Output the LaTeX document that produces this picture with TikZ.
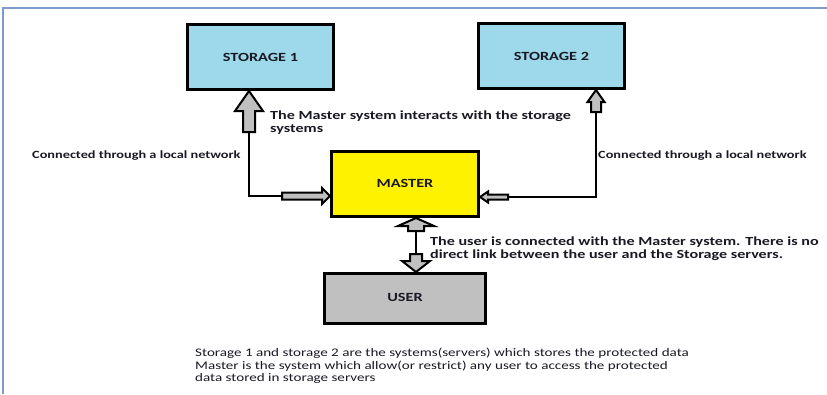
\documentclass[tikz,border=0pt]{standalone}
\usepackage{fontspec}
\setmainfont{Carlito}
\usepackage{graphicx}
\usetikzlibrary{calc}
\definecolor{stor}{RGB}{157,217,234}
\definecolor{mast}{RGB}{255,242,0}
\definecolor{usr}{RGB}{192,192,192}
\definecolor{framec}{RGB}{125,155,205}
\definecolor{arrgray}{RGB}{192,192,192}
\definecolor{txt}{RGB}{25,25,35}
\newcommand\hw[1]{\scalebox{1.3}[1]{#1}}
\newcommand\blockarrow[6]{\draw[barrow,shift={(#1)},rotate=#2] (0,0) -- (-#6,#5) -- (-#6,#4) -- (-#3,#4) -- (-#3,-#4) -- (-#6,-#4) -- (-#6,-#5) -- cycle;}
\begin{document}
\begin{tikzpicture}[x=1pt,y=-1pt,
  box/.style={draw=black,line width=3pt,inner sep=0pt,text=txt,font=\bfseries\fontsize{12.5}{13}\selectfont},
  barrow/.style={draw=black,fill=arrgray,line width=2pt,line join=miter},
  link/.style={draw=black,line width=2.5pt},
  lbl/.style={font=\bfseries\fontsize{11}{13}\selectfont,text=txt,inner sep=0pt,align=left},
  lblbig/.style={font=\bfseries\fontsize{12.4}{13}\selectfont,text=txt,inner sep=0pt,align=left},
  bot/.style={font=\fontsize{11.6}{13}\selectfont,text=txt,inner sep=0pt,align=left},
  bottwo/.style={font=\fontsize{11.6}{12}\selectfont,text=txt,inner sep=0pt,align=left}]
\useasboundingbox (0,0) rectangle (827,394);
\draw[framec,line width=2pt] (3,394) -- (3,8) -- (827,8);

\node[box,fill=stor,minimum width=146pt,minimum height=65pt] (s1) at (260.5,57) {\hw{STORAGE 1}};
\node[box,fill=stor,minimum width=146pt,minimum height=65pt] (s2) at (551.5,56) {\hw{STORAGE 2}};
\node[box,fill=mast,minimum width=147pt,minimum height=65pt] (master) at (405,184) {\raisebox{2pt}{\hw{MASTER}}};
\node[box,fill=usr,minimum width=161pt,minimum height=50pt] (user) at (405,298.5) {\raisebox{3pt}{\hw{USER}}};

% left connector
\coordinate (lx) at (249,196);
\coordinate (tipA) at (s1.south -| lx);
\coordinate (tipB) at (master.west |- lx);
\blockarrow{tipA}{90}{41}{6}{14}{20}
\draw[link] ($(tipA)+(0,41)$) -- (lx) -- ($(tipB)+(-48,0)$);
\blockarrow{tipB}{0}{48}{3.5}{8}{8}

% right connector
\coordinate (rx) at (596,197);
\coordinate (tipC) at (s2.south -| rx);
\coordinate (tipD) at (master.east |- rx);
\blockarrow{tipC}{90}{22}{5}{8.5}{12}
\draw[link] ($(tipC)+(0,22)$) -- (rx) -- ($(tipD)+(28,0)$);
\blockarrow{tipD}{180}{28}{2.5}{5.5}{8}

% master - user
\coordinate (ux) at (416,245);
\coordinate (tipE) at (master.south -| ux);
\coordinate (tipF) at (user.north -| ux);
\draw[link] ($(tipE)+(0,13)$) -- ($(tipF)+(0,-18)$);
\blockarrow{tipE}{90}{13}{8}{18}{8}
\blockarrow{tipF}{270}{18}{6}{14}{11}

% labels
\node[lbl,anchor=west] (t1) at (32,156) {\hw{Connected through a local network}};
\node[lbl,anchor=west] (t2) at (598,156) {\hw{Connected through a local network}};
\node[lblbig,anchor=north west] (t3) at (270,110) {\hw{\begin{tabular}{@{}l@{}}The Master system interacts with the storage\\systems\end{tabular}}};
\node[lblbig,anchor=north west] (t4) at (430,236) {\hw{\begin{tabular}{@{}l@{}}The user is connected with the Master system. There is no\\direct link between the user and the Storage servers.\end{tabular}}};
\node[bot,anchor=west] (t5) at (195,353) {\hw{Storage 1 and storage 2 are the systems(servers) which stores the protected data}};
\node[bottwo,anchor=north west] (t6) at (195,361) {\hw{\begin{tabular}{@{}l@{}}Master is the system which allow(or restrict) any user to access the protected\\data stored in storage servers\end{tabular}}};
\end{tikzpicture}
\end{document}
